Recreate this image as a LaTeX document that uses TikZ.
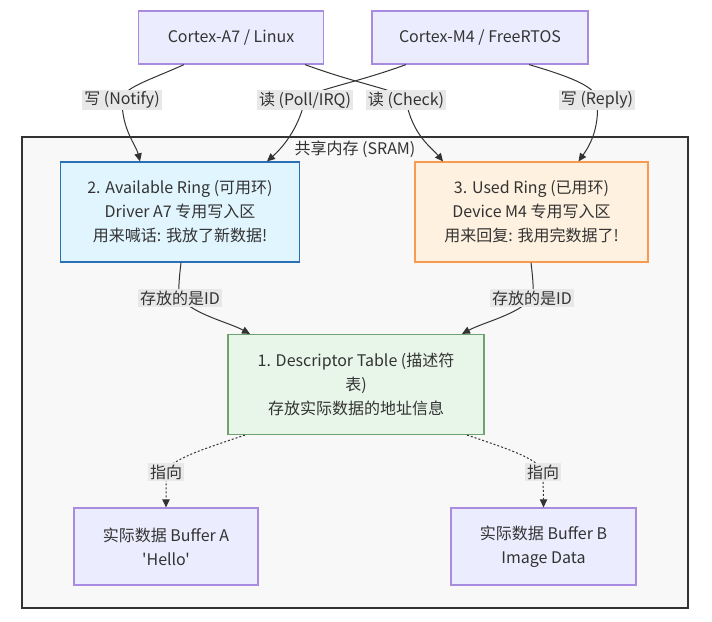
\documentclass[tikz,border=0pt]{standalone}
\usepackage{fontspec}
\setmainfont{Noto Sans CJK SC}[Ligatures=TeXOff]
\usetikzlibrary{arrows.meta,calc}
\definecolor{txt}{HTML}{333333}
\definecolor{defFill}{HTML}{ECECFF}
\definecolor{defLine}{HTML}{A98BE0}
\definecolor{blueFill}{HTML}{E1F5FE}
\definecolor{blueLine}{HTML}{2A70B5}
\definecolor{orFill}{HTML}{FFF1DF}
\definecolor{orLine}{HTML}{FA9A4E}
\definecolor{grFill}{HTML}{E8F5E9}
\definecolor{grLine}{HTML}{6FA26F}
\definecolor{frameFill}{HTML}{F8F8F8}
\definecolor{lblFill}{HTML}{E8E8E8}
\tikzset{
  box/.style={draw, line width=0.9pt, inner sep=0pt, align=center, text=txt, font=\fontsize{12pt}{18pt}\selectfont},
  plainbox/.style={box, fill=defFill, draw=defLine},
  lbl/.style={fill=lblFill, inner sep=1.5pt, text=txt, font=\fontsize{12pt}{14pt}\selectfont},
  edge/.style={draw=txt, line width=0.75pt, -{Triangle[length=6pt,width=5.5pt]}},
  dotedge/.style={edge, dash pattern=on 1.5pt off 1.5pt},
}
\begin{document}
\begin{tikzpicture}[x=0.75pt,y=-0.75pt]
\useasboundingbox[fill=white] (0,0) rectangle (712,621);
% frame
\draw[draw=txt, line width=1.5pt, fill=frameFill] (22,137) rectangle (688,608);
\node[text=txt, font=\fontsize{12pt}{14pt}\selectfont] (sram) at (355,149) {共享内存 (SRAM)};
% nodes
\node[plainbox, minimum width=185*0.75pt, minimum height=53*0.75pt] (a7) at (231,37.5) {Cortex-A7 / Linux};
\node[plainbox, minimum width=216*0.75pt, minimum height=53*0.75pt] (m4) at (480,37.5) {Cortex-M4 / FreeRTOS};
\node[box, fill=blueFill, draw=blueLine, minimum width=239*0.75pt, minimum height=100*0.75pt] (avail) at (180,212)
  {2. Available Ring (可用环)\\Driver A7 专用写入区\\用来喊话: 我放了新数据!};
\node[box, fill=orFill, draw=orLine, minimum width=233*0.75pt, minimum height=100*0.75pt] (used) at (531.5,212)
  {3. Used Ring (已用环)\\Device M4 专用写入区\\用来回复: 我用完数据了!};
\node[box, fill=grFill, draw=grLine, minimum width=256*0.75pt, minimum height=100*0.75pt] (desc) at (356,384.5)
  {1. Descriptor Table (描述符\\表)\\存放实际数据的地址信息};
\node[plainbox, minimum width=184*0.75pt, minimum height=77*0.75pt] (bufa) at (166,546.5)
  {实际数据 Buffer A\\'Hello'};
\node[plainbox, minimum width=185*0.75pt, minimum height=77*0.75pt] (bufb) at (543.5,546.5)
  {实际数据 Buffer B\\Image Data};
% label anchors
\coordinate (lNotify) at (122,100);
\coordinate (lCheck) at (406,100);
\coordinate (lPoll) at (305,100);
\coordinate (lReply) at (597,100);
\coordinate (lIdA) at (180,298);
\coordinate (lIdB) at (532,298);
\coordinate (lPtA) at (166,472);
\coordinate (lPtB) at (543,472);
% edges
\draw[edge] ($(a7.south)+(-47,0)$) .. controls (150,80) and (122,88) .. (lNotify)
  .. controls (122,130) and (136,145) .. ($(avail.north)+(-40,0)$);
\draw[edge] ($(a7.south)+(74,0)$) .. controls (360,85) and (400,90) .. (lCheck)
  .. controls (412,135) and (432,148) .. ($(used.north)+(-88.5,0)$);
\draw[edge] ($(m4.south)+(-74,0)$) .. controls (350,85) and (310,90) .. (lPoll)
  .. controls (298,130) and (282,148) .. ($(avail.north)+(87,0)$);
\draw[edge] ($(m4.south)+(49,0)$) .. controls (575,78) and (597,88) .. (lReply)
  .. controls (600,130) and (588,148) .. ($(used.north)+(47,0)$);
\draw[edge] ($(avail.south)+(1,0)$) .. controls (179,280) and (178,290) .. (lIdA)
  .. controls (195,315) and (228,322) .. ($(desc.north)+(-106,0)$);
\draw[edge] ($(used.south)+(-0.5,0)$) .. controls (533,280) and (534,290) .. (lIdB)
  .. controls (517,315) and (484,322) .. ($(desc.north)+(106,0)$);
\draw[dotedge] ($(desc.south)+(-111,0)$) .. controls (200,450) and (170,460) .. (lPtA)
  .. controls (166,485) and (166,495) .. (bufa.north);
\draw[dotedge] ($(desc.south)+(111,0)$) .. controls (512,450) and (540,460) .. (lPtB)
  .. controls (543,485) and (543.5,495) .. (bufb.north);
% labels
\node[lbl] (tNotify) at (lNotify) {写 (Notify)};
\node[lbl] (tCheck) at (lCheck) {读 (Check)};
\node[lbl] (tPoll) at (lPoll) {读 (Poll/IRQ)};
\node[lbl] (tReply) at (lReply) {写 (Reply)};
\node[lbl] (tIdA) at (lIdA) {存放的是ID};
\node[lbl] (tIdB) at (lIdB) {存放的是ID};
\node[lbl] (tPtA) at (lPtA) {指向};
\node[lbl] (tPtB) at (lPtB) {指向};
\end{tikzpicture}
\end{document}
